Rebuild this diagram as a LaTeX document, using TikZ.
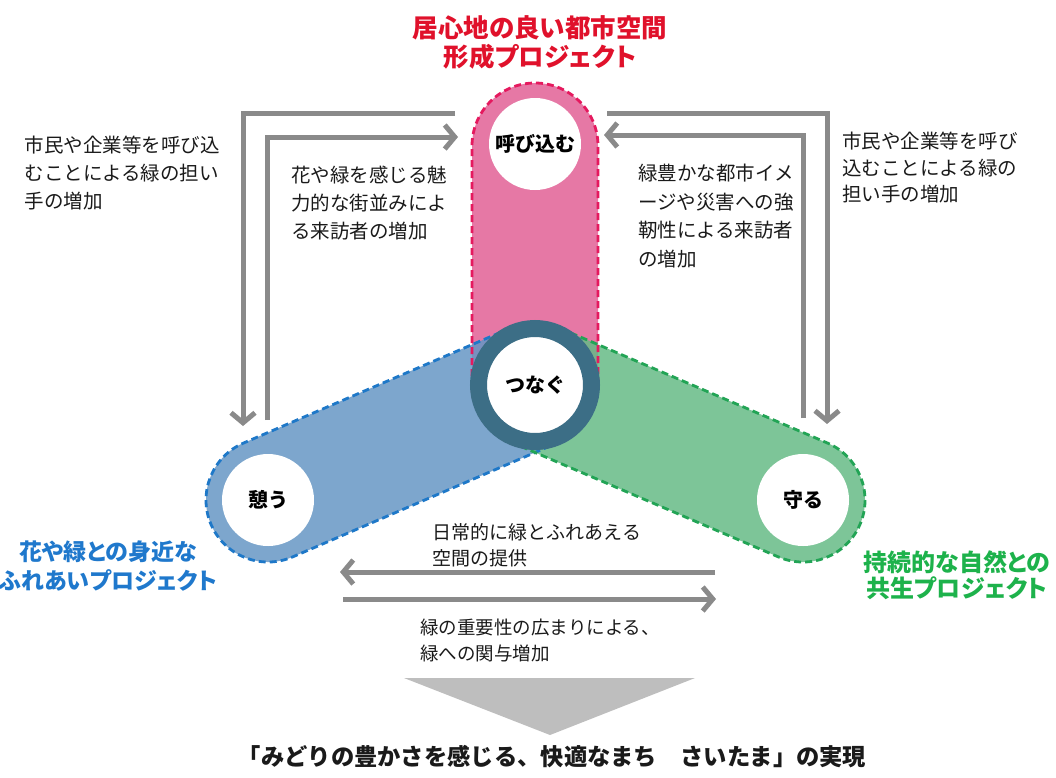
\documentclass[tikz,border=0pt]{standalone}
\usepackage{fontspec}
\setmainfont{Noto Sans CJK JP}
\newfontfamily\jpp[RawFeature=+palt]{Noto Sans CJK JP}
\usetikzlibrary{calc,arrows.meta}
\definecolor{pinkf}{HTML}{E3699B}
\definecolor{bluef}{HTML}{6696C4}
\definecolor{greenf}{HTML}{66BB86}
\definecolor{pinkd}{HTML}{E5195E}
\definecolor{blued}{HTML}{1E78C8}
\definecolor{greend}{HTML}{22A455}
\definecolor{ringc}{HTML}{3C6E86}
\definecolor{arrgray}{HTML}{8A8A8A}
\definecolor{trigray}{HTML}{BEBEBE}
\definecolor{titred}{HTML}{E0112B}
\definecolor{titblue}{HTML}{1F78CC}
\definecolor{titgreen}{HTML}{1DB24B}
\definecolor{txtc}{HTML}{1A1A1A}
\newcommand\capsule[5]{\path[#5] ($(#1)+(#3+90:#4)$) -- ($(#2)+(#3+90:#4)$) arc[start angle=#3+90, end angle=#3-90, radius=#4] -- ($(#1)+(#3-90:#4)$) arc[start angle=#3-90, end angle=#3-270, radius=#4] -- cycle;}
\begin{document}
\begin{tikzpicture}[x=1pt,y=-1pt,
  arr/.style={draw=arrgray, line width=5pt, -{Straight Barb[length=10pt,width=24pt]}},
  note/.style={font=\fontsize{19.5}{28}\selectfont, text=txtc, align=left, inner sep=0pt},
  circlab/.style={circle, fill=white, inner sep=0pt, minimum size=92pt, text=black, font=\bfseries\fontsize{20}{24}\selectfont},
  proj/.style={font=\jpp\bfseries\fontsize{24}{29}\selectfont, align=center, inner sep=0pt},
  bord/.style={dashed, line width=2.8pt, dash pattern=on 7pt off 4pt}]
\useasboundingbox (0,0) rectangle (1056,777);
\coordinate (C) at (535,385);
\coordinate (P) at (535,146);
\coordinate (B) at (268,500);
\coordinate (G) at (803,500);
% fills
\capsule{C}{P}{-90}{63}{fill=pinkf, fill opacity=0.9}
\capsule{C}{B}{156.7}{62}{fill=bluef, fill opacity=0.85}
\capsule{C}{G}{23.3}{62}{fill=greenf, fill opacity=0.85}
% borders
\capsule{C}{P}{-90}{63}{draw=pinkd, bord}
\capsule{C}{B}{156.7}{62}{draw=blued, bord}
\capsule{C}{G}{23.3}{62}{draw=greend, bord}
% circles
\node[circle, draw=ringc, line width=17pt, fill=white, inner sep=0pt, minimum size=113pt, font=\bfseries\fontsize{20}{24}\selectfont] (tsunagu) at (C) {つなぐ};
\node[circlab] (yobi) at (535,144) {呼び込む};
\node[circlab] (ikou) at (B) {憩う};
\node[circlab] (mamoru) at (G) {守る};
% project titles
\node[proj, text=titred, font=\jpp\bfseries\fontsize{25.5}{29}\selectfont] (t1) at (540,42) {居心地の良い都市空間\\形成プロジェクト};
\node[proj, text=titblue, font=\jpp\bfseries\fontsize{23}{29}\selectfont] (t2) at (108,566) {花や緑との身近な\\ふれあいプロジェクト};
\node[proj, text=titgreen, font=\jpp\bfseries\fontsize{24}{26}\selectfont] (t3) at (957,575) {持続的な自然との\\共生プロジェクト};
% arrows
\coordinate (lo1) at (455,113); \coordinate (lo2) at (243,426);
\coordinate (li1) at (267,420); \coordinate (li2) at (458,137);
\coordinate (ro1) at (607,113); \coordinate (ro2) at (827,424);
\coordinate (ri1) at (803,418); \coordinate (ri2) at (604,135);
\coordinate (bu1) at (715,572); \coordinate (bu2) at (340,572);
\coordinate (bl1) at (343,599); \coordinate (bl2) at (716,599);
\draw[arr] (lo1) -| (lo2);
\draw[arr] (li1) |- (li2);
\draw[arr] (ro1) -| (ro2);
\draw[arr] (ri1) |- (ri2);
\draw[arr] (bu1) -- (bu2);
\draw[arr] (bl1) -- (bl2);
% notes
\node[note] (n1) at (122,173) {市民や企業等を呼び込\\むことによる緑の担い\\手の増加};
\node[note] (n2) at (369,203) {花や緑を感じる魅\\力的な街並みによ\\る来訪者の増加};
\node[note, font=\fontsize{19.5}{28.5}\selectfont] (n3) at (716,216) {緑豊かな都市イメ\\ージや災害への強\\靭性による来訪者\\の増加};
\node[note, font=\fontsize{19.5}{26.5}\selectfont] (n4) at (930,168) {市民や企業等を呼び\\込むことによる緑の\\担い手の増加};
\node[note, font=\fontsize{19}{26}\selectfont] (n5) at (537,545) {日常的に緑とふれあえる\\空間の提供};
\node[note, font=\fontsize{18.5}{26}\selectfont] (n6) at (540,640) {緑の重要性の広まりによる、\\緑への関与増加};
% result
\fill[trigray] (404,678) -- (695,678) -- (550,735) -- cycle;
\node[inner sep=0pt, text=txtc, font=\bfseries\fontsize{23.3}{28}\selectfont] (res) at (552,757) {「みどりの豊かさを感じる、快適なまち　さいたま」の実現};
\end{tikzpicture}
\end{document}
